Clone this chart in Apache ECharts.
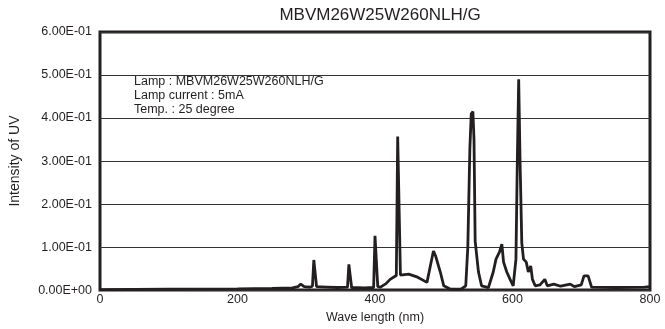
<!DOCTYPE html>
<html lang="en">
  <head>
    <meta charset="UTF-8" />
    <script src="https://cdn.jsdelivr.net/npm/echarts@6/dist/echarts.min.js"></script>
    <title>UV spectrum</title>
    <style>
      html, body { margin: 0; padding: 0; background: #fff; }
      #app { width: 665px; height: 329px; }
    </style>
  </head>
  <body>
    <div id="app"></div>

    <script>
      const chart = echarts.init(document.getElementById("app"));

      const lampName = "MBVM26W25W260NLH/G";
      const noteLines = [
        "Lamp : MBVM26W25W260NLH/G",
        "Lamp current : 5mA",
        "Temp. : 25 degree",
      ];

      // wavelength (nm) and intensity
      const waveLength = [
        0, 100, 200, 250, 280, 288, 292, 294, 297, 305, 309, 311, 313, 315,
        330, 345, 360, 362, 364, 366, 385, 398, 400, 402, 404, 408, 416,
        422, 428, 431, 433, 435, 437, 449, 462, 475.6, 481, 485, 488, 495, 500,
        510, 525, 532, 535, 538, 540, 542.4, 544, 545.7, 550.5, 555, 565, 572,
        576, 581, 584.5, 587, 591.7, 596.5, 601, 605, 607, 609, 611, 613.5,
        616, 620, 623, 626.5, 629, 633, 640, 647, 650.6, 660, 670, 684, 690,
        700, 704, 710, 715, 750, 792, 800,
      ];
      const intensity = [
        0.001, 0.002, 0.003, 0.004, 0.005, 0.008, 0.014, 0.018, 0.008, 0.007,
        0.009, 0.07, 0.07, 0.008, 0.007, 0.006, 0.007, 0.06, 0.058,
        0.006, 0.005, 0.006, 0.126, 0.126, 0.008, 0.007, 0.015, 0.025, 0.031,
        0.034, 0.357, 0.357, 0.035, 0.037, 0.03, 0.018, 0.06, 0.091, 0.08,
        0.042, 0.01, 0.002, 0.002, 0.01, 0.1, 0.33, 0.41, 0.415, 0.35, 0.114,
        0.042, 0.01, 0.006, 0.042, 0.072, 0.088, 0.107, 0.065, 0.042, 0.025,
        0.01, 0.072, 0.3, 0.49, 0.3, 0.11, 0.072, 0.065, 0.042, 0.056, 0.025,
        0.01, 0.012, 0.025, 0.01, 0.014, 0.009, 0.014, 0.008, 0.012, 0.033,
        0.033, 0.007, 0.006, 0.007, 0.008,
      ];

      const xTicks = { min: 0, max: 800, interval: 200 };
      const yTicks = { min: 0, max: 0.6, interval: 0.1 };

      // 6.00E-01 style labels
      function sci(v) {
        if (v === 0) return "0.00E+00";
        const parts = v.toExponential(2).split("e");
        const exp = parseInt(parts[1], 10);
        const sign = exp < 0 ? "-" : "+";
        return parts[0] + "E" + sign + String(Math.abs(exp)).padStart(2, "0");
      }

      const points = waveLength.map((w, i) => [w, intensity[i]]);
      const font = "Liberation Sans, Arial, sans-serif";

      chart.setOption({
        animation: false,
        title: {
          text: lampName,
          left: 375,
          textAlign: "center",
          top: 2,
          textStyle: {
            fontFamily: font,
            fontSize: 17,
            fontWeight: "normal",
            color: "#231f20",
          },
        },
        grid: {
          left: 99,
          right: 15,
          top: 32,
          bottom: 38,
          show: true,
          borderColor: "#231f20",
          borderWidth: 3,
        },
        xAxis: {
          type: "value",
          min: xTicks.min,
          max: xTicks.max,
          interval: xTicks.interval,
          name: "Wave length (nm)",
          nameLocation: "middle",
          nameGap: 20,
          nameTextStyle: { fontFamily: font, fontSize: 12.5, color: "#231f20" },
          axisLine: { show: false },
          axisTick: { show: false },
          splitLine: { show: false },
          axisLabel: {
            fontFamily: font,
            fontSize: 12.5,
            color: "#231f20",
            margin: 3,
          },
        },
        yAxis: {
          type: "value",
          min: yTicks.min,
          max: yTicks.max,
          interval: yTicks.interval,
          name: "Intensity of UV",
          nameLocation: "middle",
          nameGap: 78,
          nameTextStyle: { fontFamily: font, fontSize: 14, color: "#231f20" },
          axisLine: { show: false },
          axisTick: { show: false },
          splitLine: { lineStyle: { color: "#333", width: 1 } },
          axisLabel: {
            fontFamily: font,
            fontSize: 12.5,
            color: "#231f20",
            margin: 8,
            formatter: sci,
          },
        },
        graphic: noteLines.map((t, i) => ({
          type: "text",
          left: 134,
          top: 75 + i * 14,
          style: {
            text: t,
            fontFamily: font,
            fontSize: 12.5,
            fill: "#231f20",
          },
        })),
        series: [
          {
            type: "line",
            data: points,
            showSymbol: false,
            lineStyle: { color: "#231f20", width: 2.8 },
          },
        ],
      });
    </script>
  </body>
</html>
